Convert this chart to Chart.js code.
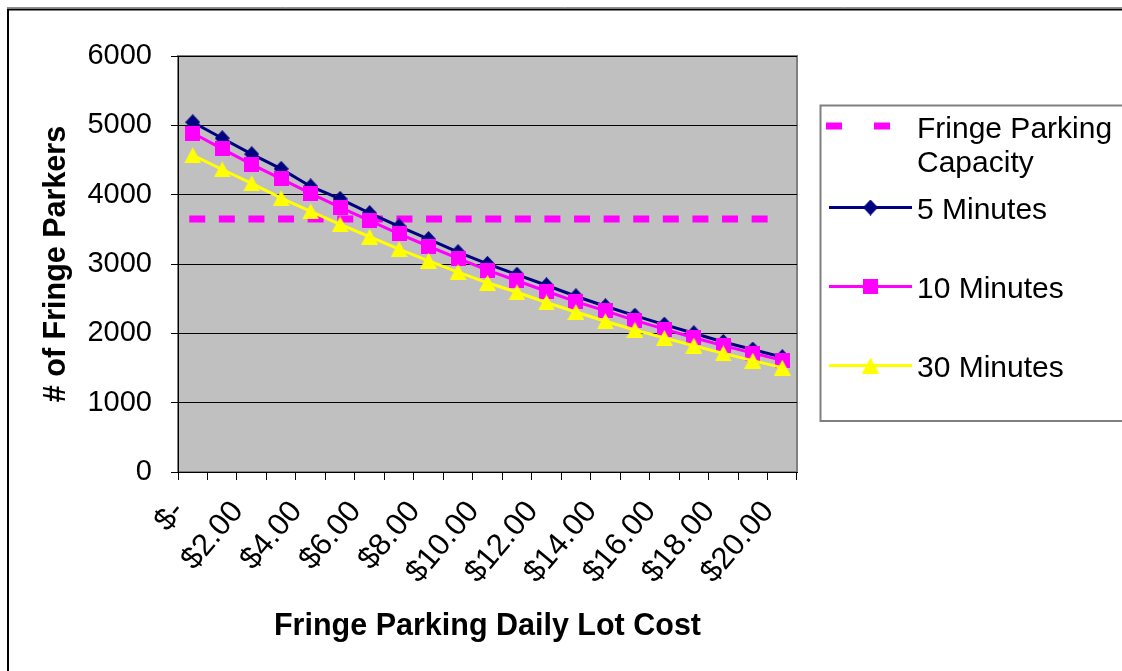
<!DOCTYPE html>
<html>
<head>
<meta charset="utf-8">
<script src="https://cdn.jsdelivr.net/npm/chart.js@4.4.1/dist/chart.umd.min.js"></script>
<style>
  html, body { margin: 0; padding: 0; background: #ffffff; }
  canvas { display: block; }
</style>
</head>
<body>
<canvas id="chart" width="1122" height="671"></canvas>
<script>
// Daily lot cost categories ($0 .. $20)
const costLabels = ['$-', '$1.00', '$2.00', '$3.00', '$4.00', '$5.00', '$6.00', '$7.00',
  '$8.00', '$9.00', '$10.00', '$11.00', '$12.00', '$13.00', '$14.00', '$15.00',
  '$16.00', '$17.00', '$18.00', '$19.00', '$20.00'];

// Lot capacity (constant across cost)
const fringeCapacity = [3650, 3650, 3650, 3650, 3650, 3650, 3650, 3650, 3650, 3650, 3650,
  3650, 3650, 3650, 3650, 3650, 3650, 3650, 3650, 3650, 3650];

// Fringe parkers by shuttle travel time
const fiveMinutes = [5045, 4814, 4584, 4372, 4119, 3940, 3734, 3543, 3360, 3172, 3002,
  2846, 2693, 2535, 2391, 2255, 2126, 2002, 1876, 1766, 1656];
const tenMinutes = [4889, 4660, 4437, 4228, 4018, 3818, 3626, 3435, 3256, 3082, 2912,
  2758, 2607, 2457, 2323, 2186, 2061, 1937, 1822, 1714, 1610];
const thirtyMinutes = [4569, 4363, 4162, 3950, 3759, 3573, 3393, 3216, 3046, 2884, 2729,
  2592, 2445, 2308, 2175, 2049, 1934, 1822, 1711, 1606, 1505];

const seriesNames = ['Fringe Parking Capacity', '5 Minutes', '10 Minutes', '30 Minutes'];

const NAVY = '#000080', MAGENTA = '#FF00FF', YELLOW = '#FFFF00';
const FONT = '"Liberation Sans", Arial, sans-serif';

// Small canvases used as centred point markers
function makeMarker(w, h, color, pts) {
  const c = document.createElement('canvas');
  c.width = w; c.height = h;
  const g = c.getContext('2d');
  g.fillStyle = color;
  g.beginPath();
  g.moveTo(pts[0][0], pts[0][1]);
  for (let i = 1; i < pts.length; i++) g.lineTo(pts[i][0], pts[i][1]);
  g.closePath();
  g.fill();
  return c;
}
const diamond = makeMarker(15, 16, NAVY, [[7.5, 0], [15, 8], [7.5, 16], [0, 8]]);
const square = makeMarker(15, 15, MAGENTA, [[0, 0], [15, 0], [15, 15], [0, 15]]);
const triangle = makeMarker(17, 16, YELLOW, [[8.5, 0], [17, 16], [0, 16]]);

// Grey plot background with frame
const plotFrame = {
  id: 'plotFrame',
  beforeDraw(chart) {
    const { ctx, chartArea: a } = chart;
    ctx.save();
    ctx.fillStyle = '#ffffff';
    ctx.fillRect(0, 0, chart.width, chart.height);
    ctx.fillStyle = '#C0C0C0';
    ctx.fillRect(a.left, a.top, a.right - a.left, a.bottom - a.top);
    ctx.strokeStyle = '#808080';
    ctx.lineWidth = 2;
    ctx.strokeRect(a.left, a.top, a.right - a.left, a.bottom - a.top);
    // outer chart border
    ctx.strokeStyle = '#909090';
    ctx.lineWidth = 1;
    ctx.beginPath(); ctx.moveTo(7, 7.5); ctx.lineTo(chart.width, 7.5); ctx.stroke();
    ctx.strokeStyle = '#000000';
    ctx.lineWidth = 2;
    ctx.beginPath();
    ctx.moveTo(8, chart.height);
    ctx.lineTo(8, 9.5);
    ctx.lineTo(chart.width, 9.5);
    ctx.stroke();
    ctx.restore();
  }
};

// Boxed legend on the right
const sideLegend = {
  id: 'sideLegend',
  afterDraw(chart) {
    const { ctx } = chart;
    const box = { left: 820.5, top: 105.5, right: 1130, bottom: 421 };
    ctx.save();
    ctx.fillStyle = '#ffffff';
    ctx.fillRect(box.left, box.top, box.right - box.left, box.bottom - box.top);
    ctx.strokeStyle = '#808080';
    ctx.lineWidth = 2;
    ctx.strokeRect(box.left, box.top, box.right - box.left, box.bottom - box.top);

    const x0 = 829, x1 = 912, xm = 870.5, tx = 917;
    ctx.font = '30px ' + FONT;
    ctx.fillStyle = '#000000';
    ctx.textAlign = 'left';
    ctx.textBaseline = 'alphabetic';

    // capacity: dashed symbol
    ctx.strokeStyle = MAGENTA;
    ctx.lineWidth = 7;
    ctx.lineCap = 'square';
    ctx.setLineDash([9, 39]);
    ctx.beginPath(); ctx.moveTo(x0 + 0.5, 126); ctx.lineTo(x1, 126); ctx.stroke();
    ctx.setLineDash([]);
    ctx.lineCap = 'butt';
    ctx.fillText('Fringe Parking', tx, 137.5);
    ctx.fillText('Capacity', tx, 172);

    const rows = [
      { name: seriesNames[1], color: NAVY, marker: diamond, y: 207.5, base: 219 },
      { name: seriesNames[2], color: MAGENTA, marker: square, y: 286.5, base: 298 },
      { name: seriesNames[3], color: YELLOW, marker: triangle, y: 365.5, base: 377 }
    ];
    rows.forEach(r => {
      ctx.strokeStyle = r.color;
      ctx.lineWidth = 3;
      ctx.beginPath(); ctx.moveTo(x0, r.y); ctx.lineTo(x1, r.y); ctx.stroke();
      ctx.drawImage(r.marker, xm - r.marker.width / 2, r.y - r.marker.height / 2);
      ctx.fillText(r.name, tx, r.base);
    });
    ctx.restore();
  }
};

new Chart(document.getElementById('chart'), {
  type: 'line',
  data: {
    labels: costLabels,
    datasets: [
      {
        label: seriesNames[0], data: fringeCapacity, order: 4,
        borderColor: MAGENTA, borderWidth: 7, borderDash: [9, 20.6],
        borderCapStyle: 'square', pointRadius: 0, fill: false, tension: 0
      },
      {
        label: seriesNames[1], data: fiveMinutes, order: 3,
        borderColor: NAVY, backgroundColor: NAVY, borderWidth: 3,
        pointStyle: diamond, pointRadius: 8, fill: false, tension: 0
      },
      {
        label: seriesNames[2], data: tenMinutes, order: 2,
        borderColor: MAGENTA, backgroundColor: MAGENTA, borderWidth: 3,
        pointStyle: square, pointRadius: 8, fill: false, tension: 0
      },
      {
        label: seriesNames[3], data: thirtyMinutes, order: 1,
        borderColor: YELLOW, backgroundColor: YELLOW, borderWidth: 3,
        pointStyle: triangle, pointRadius: 8, fill: false, tension: 0
      }
    ]
  },
  options: {
    responsive: false,
    animation: false,
    devicePixelRatio: 1,
    layout: { padding: { left: 30, top: 56, right: 325, bottom: 20 } },
    plugins: {
      legend: { display: false },
      tooltip: { enabled: false }
    },
    scales: {
      x: {
        type: 'category',
        offset: true,
        grid: {
          offset: true, drawOnChartArea: false, drawTicks: true,
          tickLength: 8, color: '#000000', lineWidth: 1
        },
        border: { display: true, color: '#000000', width: 1 },
        ticks: {
          autoSkip: false, minRotation: 50, maxRotation: 50,
          color: '#000000', padding: 14, labelOffset: -14,
          font: { family: FONT, size: 31 },
          callback: (v, i) => (i % 2 === 0 ? costLabels[i] : '')
        },
        title: {
          display: true, text: 'Fringe Parking Daily Lot Cost', color: '#000000',
          font: { family: FONT, size: 30.5, weight: 'bold' },
          padding: { top: 0, bottom: 6 }
        },
        afterFit: s => { s.height = 179; }
      },
      y: {
        min: 0, max: 6000,
        grid: {
          color: '#000000', lineWidth: 1, drawTicks: true,
          tickLength: 7, tickColor: '#000000'
        },
        border: { display: true, color: '#000000', width: 1 },
        ticks: {
          stepSize: 1000, color: '#000000', padding: 19,
          font: { family: FONT, size: 29 },
          callback: v => String(v)
        },
        title: {
          display: true, text: '# of Fringe Parkers', color: '#000000',
          font: { family: FONT, size: 30.5, weight: 'bold' },
          padding: { top: 8, bottom: 0 }
        },
        afterFit: s => { s.width = 148; }
      }
    }
  },
  plugins: [plotFrame, sideLegend]
});
</script>
</body>
</html>
